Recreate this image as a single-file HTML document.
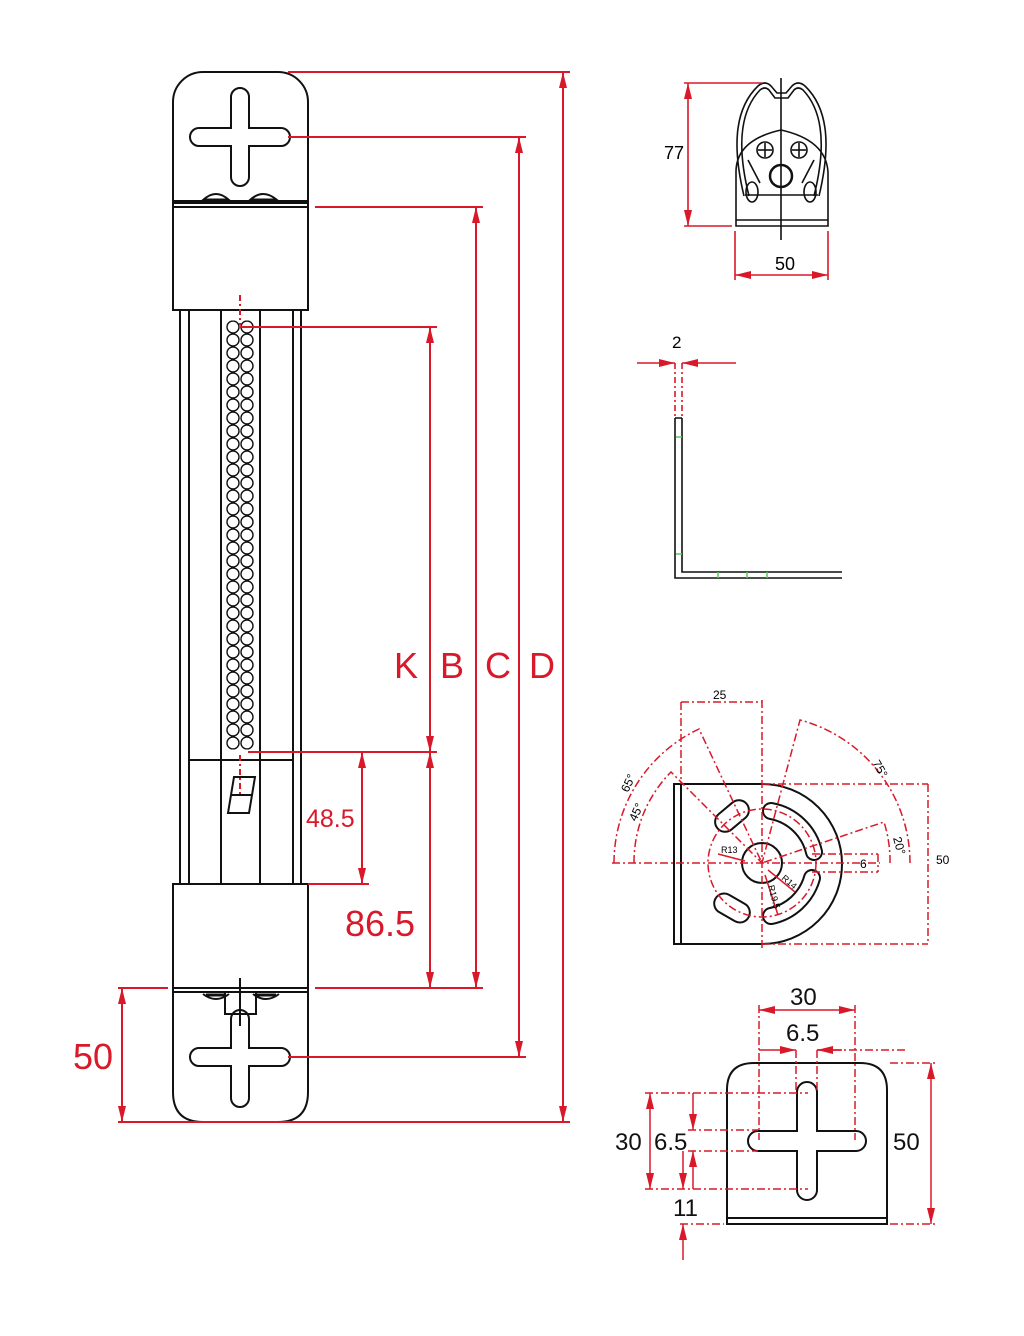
<!DOCTYPE html>
<html><head><meta charset="utf-8"><style>
html,body{margin:0;padding:0;background:#fff}
svg{display:block}
text{font-family:"Liberation Sans",Arial,sans-serif}
</style></head><body>
<svg width="1024" height="1336" viewBox="0 0 1024 1336" xmlns="http://www.w3.org/2000/svg">
<defs>
<marker id="a" viewBox="0 0 16 8" refX="16" refY="4" markerWidth="16" markerHeight="8" orient="auto-start-reverse" markerUnits="userSpaceOnUse"><path d="M0,0L16,4L0,8z" fill="#d9182a"/></marker>
<pattern id="balls" x="226" y="320.5" width="28" height="13" patternUnits="userSpaceOnUse">
<circle cx="7" cy="6.5" r="6" fill="#fff" stroke="#111" stroke-width="1.4"/>
<circle cx="21" cy="6.5" r="6" fill="#fff" stroke="#111" stroke-width="1.4"/>
</pattern>
</defs>
<g fill="none" stroke="#111" stroke-width="2">
<path d="M173,203 V102 A30,30 0 0 1 203,72 H278 A30,30 0 0 1 308,102 V203 Z"/>
<rect x="173" y="201" width="135" height="6"/>
<rect x="173" y="207" width="135" height="103"/>
<line x1="180" y1="310" x2="180" y2="884"/><line x1="189" y1="310" x2="189" y2="884"/>
<line x1="221" y1="310" x2="221" y2="884"/><line x1="260" y1="310" x2="260" y2="884"/>
<line x1="293" y1="310" x2="293" y2="884"/><line x1="301" y1="310" x2="301" y2="884"/>
<line x1="189" y1="760" x2="293" y2="760"/>
<rect x="173" y="884" width="135" height="104"/>
<rect x="173" y="988" width="135" height="4"/>
<path d="M173,992 V1092 Q173,1122 203,1122 H278 Q308,1122 308,1092 V992"/>
<path d="M231,97 A9,9 0 0 1 249,97 V128 H281 A9,9 0 0 1 281,146 H249 V177 A9,9 0 0 1 231,177 V146 H199 A9,9 0 0 1 199,128 H231 Z"/>
<path d="M231,1019 A9,9 0 0 1 249,1019 V1048 H281 A9,9 0 0 1 281,1066 H249 V1098 A9,9 0 0 1 231,1098 V1066 H199 A9,9 0 0 1 199,1048 H231 Z"/>
<path d="M203,200 Q216,188 229,200 Z" fill="#fff"/><path d="M250,200 Q263,188 277,200 Z" fill="#fff"/>
<path d="M203,994 Q216,1004 229,994" /><path d="M253,994 Q266,1004 279,994"/>
<path d="M225,992 V1014 H256 V992"/>
<line x1="240" y1="978" x2="240" y2="1026"/>
<path d="M234,777 H255 L249,813 H228 Z"/><line x1="231" y1="795" x2="252" y2="795"/>
</g>
<rect x="226" y="320.5" width="28" height="429" fill="url(#balls)"/>
<path d="M203,200 H229 M250,200 H277 M206,995 H226 M256,995 H276" stroke="#111" stroke-width="3"/>
<g stroke="#d9182a" stroke-width="2" fill="none">
<line x1="288" y1="72" x2="570" y2="72"/><line x1="563" y1="72" x2="563" y2="1122" marker-start="url(#a)" marker-end="url(#a)"/>
<line x1="288" y1="137" x2="526" y2="137"/><line x1="519" y1="137" x2="519" y2="1057" marker-start="url(#a)" marker-end="url(#a)"/>
<line x1="315" y1="207" x2="483" y2="207"/><line x1="476" y1="207" x2="476" y2="988" marker-start="url(#a)" marker-end="url(#a)"/>
<line x1="240" y1="327" x2="437" y2="327"/><line x1="430" y1="327" x2="430" y2="752" marker-start="url(#a)" marker-end="url(#a)"/>
<line x1="248" y1="752" x2="437" y2="752"/><line x1="430" y1="752" x2="430" y2="988" marker-start="url(#a)" marker-end="url(#a)"/>
<line x1="362" y1="752" x2="362" y2="884" marker-start="url(#a)" marker-end="url(#a)"/>
<line x1="308" y1="884" x2="369" y2="884"/>
<line x1="118" y1="988" x2="168" y2="988"/><line x1="315" y1="988" x2="483" y2="988"/>
<line x1="118" y1="1122" x2="570" y2="1122"/>
<line x1="122" y1="988" x2="122" y2="1122" marker-start="url(#a)" marker-end="url(#a)"/>
<line x1="288" y1="1057" x2="526" y2="1057"/>
<line x1="240" y1="295" x2="240" y2="325" stroke-dasharray="6,3,2,3"/>
<line x1="240" y1="755" x2="240" y2="795" stroke-dasharray="6,3,2,3"/>
</g>
<g fill="#d9182a" font-size="36">
<text x="394" y="678">K</text><text x="440" y="678">B</text><text x="485" y="678">C</text><text x="529" y="678">D</text>
<text x="345" y="936">86.5</text><text x="73" y="1069">50</text>
<text x="306" y="827" font-size="25">48.5</text>
</g>
<!-- top right view -->
<g fill="none" stroke="#111" stroke-width="1.6">
<path d="M736,226 V172 Q736,140 781,130 Q826,140 828,172 V226 Z"/>
<line x1="736" y1="220" x2="828" y2="220"/>
<path d="M744,196 C733,150 733,110 758,86 Q765,80 771,86 L777,93 H786 L792,86 Q798,80 805,86 C830,110 830,150 819,196"/>
<path d="M749,196 C738,152 738,113 760,90 Q765,86 769,90 L775,98 H788 L794,90 Q798,86 803,90 C825,113 825,152 814,196"/>
<line x1="745" y1="195" x2="818" y2="195"/>
<circle cx="765" cy="150" r="8"/><circle cx="799" cy="150" r="8"/>
<circle cx="781" cy="176" r="11" stroke-width="2.5"/>
<path d="M748,160 L760,183 M814,160 L802,183"/>
<ellipse cx="752" cy="192" rx="6" ry="10"/><ellipse cx="810" cy="192" rx="6" ry="10"/>
<line x1="781" y1="78" x2="781" y2="240"/>
<line x1="765" y1="143" x2="765" y2="157"/><line x1="758" y1="150" x2="772" y2="150"/>
<line x1="799" y1="143" x2="799" y2="157"/><line x1="792" y1="150" x2="806" y2="150"/>
</g>
<g stroke="#d9182a" stroke-width="1.6" fill="none">
<line x1="684" y1="83" x2="762" y2="83"/><line x1="684" y1="226" x2="732" y2="226"/>
<line x1="688" y1="83" x2="688" y2="226" marker-start="url(#a)" marker-end="url(#a)"/>
<line x1="735" y1="231" x2="735" y2="280"/><line x1="828" y1="231" x2="828" y2="280"/>
<line x1="735" y1="275" x2="828" y2="275" marker-start="url(#a)" marker-end="url(#a)"/>
</g>
<text x="664" y="159" font-size="18">77</text><text x="775" y="270" font-size="18">50</text>
<path d="M675,418 V578 H842 M682,418 V572 H842 M675,418 H682" fill="none" stroke="#111" stroke-width="1.6"/>
<g stroke="#d9182a" stroke-width="1.6" fill="none" stroke-dasharray="6,3,2,3">
<line x1="675" y1="363" x2="675" y2="416"/><line x1="682" y1="363" x2="682" y2="416"/>
<line x1="637" y1="363" x2="675" y2="363" marker-end="url(#a)" stroke-dasharray="none"/>
<line x1="736" y1="363" x2="682" y2="363" marker-end="url(#a)" stroke-dasharray="none"/>
</g>
<text x="672" y="348" font-size="17">2</text>
<g stroke="#5c5" stroke-width="1.5"><line x1="676" y1="437" x2="682" y2="437"/><line x1="676" y1="554" x2="682" y2="554"/><line x1="718" y1="572" x2="718" y2="578"/><line x1="747" y1="572" x2="747" y2="578"/><line x1="767" y1="572" x2="767" y2="578"/></g>
<!-- plate view -->
<g fill="none" stroke="#111" stroke-width="2">
<path d="M674,784 H762 A80,80 0 0 1 762,944 H674 Z"/><line x1="681" y1="784" x2="681" y2="944"/>
<circle cx="762" cy="863" r="20"/>
<rect x="713" y="806" width="38" height="20" rx="10" transform="rotate(-40 732 816)"/>
<rect x="713" y="898" width="38" height="20" rx="10" transform="rotate(30 732 908)"/>
<path d="M771,811 A54,54 0 0 1 814,852" stroke-width="18" stroke-linecap="round"/>
<path d="M771,811 A54,54 0 0 1 814,852" stroke="#fff" stroke-width="14" stroke-linecap="round"/>
<path d="M812,878 A54,54 0 0 1 771,916" stroke-width="18" stroke-linecap="round"/>
<path d="M812,878 A54,54 0 0 1 771,916" stroke="#fff" stroke-width="14" stroke-linecap="round"/>
</g>
<g fill="none" stroke="#d9182a" stroke-width="1.5" stroke-dasharray="8,3,2,3">
<circle cx="762" cy="863" r="54"/>
<line x1="612" y1="863" x2="880" y2="863"/><line x1="762" y1="700" x2="762" y2="950"/>
<line x1="681" y1="702" x2="762" y2="702"/><line x1="681" y1="702" x2="681" y2="784"/>
<path d="M614,863 A148,148 0 0 1 699,729 L762,863"/>
<path d="M634,863 A128,128 0 0 1 671,772 L762,863"/>
<path d="M910,863 A148,148 0 0 0 800,720 L762,863"/>
<path d="M890,863 A128,128 0 0 0 884,822 L762,863"/>
<line x1="762" y1="784" x2="928" y2="784"/><line x1="762" y1="944" x2="928" y2="944"/><line x1="928" y1="784" x2="928" y2="944"/>
<line x1="812" y1="854" x2="878" y2="854"/><line x1="812" y1="872" x2="878" y2="872"/><line x1="878" y1="854" x2="878" y2="872"/>
</g>
<g stroke="#d9182a" stroke-width="1.5"><line x1="718" y1="854" x2="745" y2="861"/><line x1="768" y1="870" x2="795" y2="892"/><line x1="765" y1="875" x2="778" y2="915"/></g>
<g font-size="12">
<text x="713" y="699">25</text><text x="936" y="864">50</text><text x="860" y="868">6</text>
<text x="721" y="853" font-size="9">R13</text>
<text transform="translate(781,879) rotate(40)" font-size="9">R14</text>
<text transform="translate(768,886) rotate(75)" font-size="9">R19.5</text>
<text transform="translate(628,793) rotate(-65)">65°</text>
<text transform="translate(636,822) rotate(-65)">45°</text>
<text transform="translate(872,763) rotate(60)">75°</text>
<text transform="translate(893,838) rotate(75)">20°</text>
</g>
<!-- bottom plate -->
<g fill="none" stroke="#111" stroke-width="2">
<path d="M727,1224 V1090 Q727,1063 754,1063 H860 Q887,1063 887,1090 V1224 Z"/>
<line x1="727" y1="1218" x2="887" y2="1218"/>
<path d="M797,1092 A10,10 0 0 1 817,1092 V1131 H856 A10,10 0 0 1 856,1151 H817 V1190 A10,10 0 0 1 797,1190 V1151 H758 A10,10 0 0 1 758,1131 H797 Z"/>
</g>
<g fill="none" stroke="#d9182a" stroke-width="1.5" stroke-dasharray="8,3,2,3">
<line x1="759" y1="1005" x2="759" y2="1140"/><line x1="855" y1="1005" x2="855" y2="1140"/>
<line x1="796" y1="1050" x2="796" y2="1090"/><line x1="817" y1="1050" x2="817" y2="1090"/>
<line x1="817" y1="1050" x2="907" y2="1050"/>
<line x1="645" y1="1093" x2="808" y2="1093"/><line x1="645" y1="1189" x2="808" y2="1189"/>
<line x1="688" y1="1130" x2="758" y2="1130"/><line x1="688" y1="1151" x2="758" y2="1151"/>
<line x1="890" y1="1063" x2="935" y2="1063"/><line x1="890" y1="1224" x2="935" y2="1224"/>
<line x1="680" y1="1224" x2="724" y2="1224"/>
</g>
<g stroke="#d9182a" stroke-width="1.5">
<line x1="759" y1="1010" x2="855" y2="1010" marker-start="url(#a)" marker-end="url(#a)"/>
<line x1="759" y1="1050" x2="796" y2="1050" marker-end="url(#a)"/>
<line x1="842" y1="1050" x2="817" y2="1050" marker-end="url(#a)"/>
<line x1="650" y1="1093" x2="650" y2="1189" marker-start="url(#a)" marker-end="url(#a)"/>
<line x1="693" y1="1093" x2="693" y2="1130" marker-end="url(#a)"/>
<line x1="683" y1="1151" x2="683" y2="1189" marker-end="url(#a)"/>
<line x1="693" y1="1189" x2="693" y2="1151" marker-end="url(#a)"/>
<line x1="931" y1="1063" x2="931" y2="1224" marker-start="url(#a)" marker-end="url(#a)"/>
<line x1="683" y1="1260" x2="683" y2="1224" marker-end="url(#a)"/>
</g>
<g font-size="24" fill="#111">
<text x="790" y="1005">30</text><text x="786" y="1041">6.5</text>
<text x="615" y="1150">30</text><text x="654" y="1150">6.5</text>
<text x="893" y="1150">50</text><text x="673" y="1216">11</text>
</g>
</svg>
</body></html>
